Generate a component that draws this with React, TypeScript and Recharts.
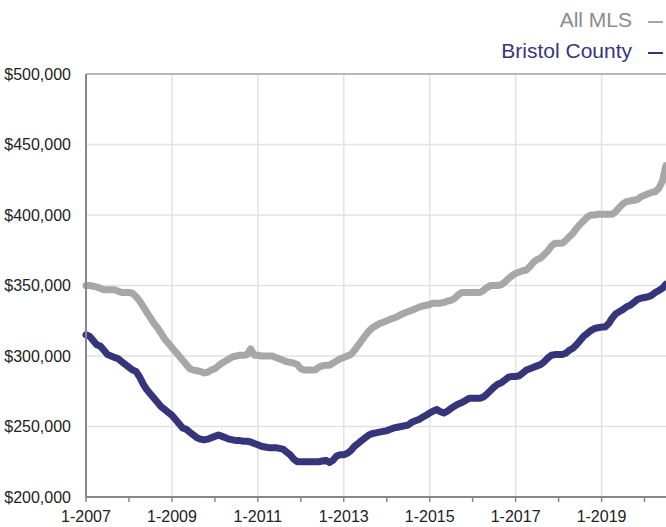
import React from 'react';
import { LineChart, Line, XAxis, YAxis, CartesianGrid, ReferenceLine, Legend } from 'recharts';

// Monthly median prices (in $ thousands), starting January 2007
const allMLS: number[] = [
  350, 350, 349.5, 349, 348, 347, 347, 347, 347, 346, 345, 345,
  345, 344.5, 342, 339, 335, 331, 327, 323, 320, 316, 312, 309,
  306, 303, 300, 297, 294, 291, 290, 289.5, 289, 288, 288.5, 290,
  291, 293, 295, 296.5, 298, 299.5, 300, 300.5, 300.5, 301, 305, 300.5,
  300.5, 300, 300, 300, 300, 299, 298, 297, 296, 295.5, 295, 294,
  291, 290, 290, 290, 290, 292, 293, 293.5, 293.5, 295, 296.5, 298,
  299, 300, 301, 304, 307.5, 311, 314.5, 317.5, 320, 321.5, 323, 324,
  325, 326, 327, 328, 329.5, 330.5, 331.5, 332.5, 333.5, 334.5, 335.5, 336,
  336.5, 337.5, 337.5, 337.5, 338, 339, 339.5, 341, 343.5, 345, 345, 345,
  345, 345, 345, 346.5, 348.5, 350, 350, 350, 350.5, 352.5, 355, 357,
  358.5, 359.5, 360.5, 361, 363.5, 366.5, 368.5, 369.5, 372, 374.5, 378, 380,
  380, 380, 382, 384.5, 387, 390.5, 393.5, 396, 398.5, 400, 400, 400.5,
  400.5, 400.5, 400.5, 400.5, 402.5, 405.5, 408, 409.5, 410, 410.5, 411, 413,
  414, 415, 416, 416.5, 419, 424, 435,
];

const bristol: number[] = [
  315, 314, 311, 308, 307, 304, 301, 300, 299, 298, 296, 294,
  292, 290, 289, 285, 280, 276, 273, 270, 267, 264, 262, 260,
  258, 255, 252, 249, 248, 246, 244, 242, 241, 240.5, 241, 242,
  243, 244, 243, 242, 241, 240.5, 240, 240, 239.5, 239.5, 239, 238,
  237, 236, 235.5, 235, 235, 235, 234.5, 234, 232, 230, 227, 225,
  225, 225, 225, 225, 225, 225, 225.5, 226, 224.5, 226, 229, 230,
  230, 231, 233, 236, 238, 240, 242, 244, 245, 245.5, 246, 246.5,
  247, 248, 249, 249.5, 250, 250.5, 251, 253, 254, 255, 256.5, 258,
  259.5, 261, 262, 260.5, 259.5, 261, 263, 264.5, 266, 267, 268.5, 270,
  270, 270, 270, 271, 273, 275.5, 278, 280, 281, 283, 285, 285.5,
  285.5, 286, 288, 290, 291, 292, 293, 294, 296, 298.5, 300.5, 301,
  301, 301, 302, 304, 305.5, 308, 311, 314, 316, 318, 319.5, 320,
  320.5, 320.5, 323, 327, 330, 331.5, 333, 335, 336, 338, 340, 341,
  341.5, 342, 343, 345, 346.5, 348, 351,
];

const xTickLabels: string[] = ['1-2007', '', '1-2009', '', '1-2011', '', '1-2013', '', '1-2015', '', '1-2017', '', '1-2019', ''];
const yTicks: number[] = [200000, 250000, 300000, 350000, 400000, 450000, 500000];
const seriesNames = { all: 'All MLS', bristol: 'Bristol County' };

const GRAY = '#a7a7a7';
const NAVY = '#35357b';

const data = allMLS.map((v, i) => ({ m: i, all: v * 1000, bristol: bristol[i] * 1000 }));
const xTicks = xTickLabels.map((_, i) => i * 12);
const gridX = xTicks.filter((_, i) => i > 0 && xTickLabels[i] !== '');

const fmtMoney = (v: number) => '$' + v.toLocaleString('en-US');

const LegendContent = (props: any) => {
  const payload = props.payload || [];
  const textColors: Record<string, string> = { all: '#8c8c8c', bristol: '#37367c' };
  return (
    <div style={{ position: 'relative', width: 666, height: 70 }}>
      {payload.map((p: any, i: number) => (
        <div key={p.dataKey} style={{ position: 'absolute', top: 9 + i * 31, right: 0, width: 666, height: 21 }}>
          <span
            style={{
              position: 'absolute',
              right: 34,
              top: 0,
              fontSize: 21,
              lineHeight: '21px',
              color: textColors[p.dataKey] || p.color,
              whiteSpace: 'nowrap',
              fontFamily: '"Liberation Sans", Arial, sans-serif',
            }}
          >
            {p.value}
          </span>
          <span style={{ position: 'absolute', right: 3, top: 12, width: 15, height: 2, background: p.color }} />
        </div>
      ))}
    </div>
  );
};

export default function App() {
  return (
    <div style={{ position: 'absolute', left: 0, top: 0, width: 666, height: 527, background: '#fff', fontFamily: '"Liberation Sans", Arial, sans-serif' }}>
      <LineChart width={666} height={527} data={data} margin={{ top: 4, right: 0, bottom: 0, left: 0 }}>
        <Legend
          verticalAlign="top"
          align="right"
          wrapperStyle={{ position: 'absolute', top: 0, left: 0, width: 666, height: 70 }}
          content={<LegendContent />}
        />
        <CartesianGrid vertical={false} stroke="#e2e2e2" strokeWidth={1.5} />
        {gridX.map((x) => (
          <ReferenceLine key={x} x={x} stroke="#e2e2e2" strokeWidth={1.5} />
        ))}
        <ReferenceLine y={500000} stroke="#a8a8a8" strokeWidth={1.5} />
        <XAxis
          dataKey="m"
          type="number"
          domain={[0, 162]}
          ticks={xTicks}
          interval={0}
          tickFormatter={(v: number) => xTickLabels[Math.round(v / 12)] || ''}
          height={30}
          tickSize={5}
          tickMargin={9}
          axisLine={{ stroke: '#888', strokeWidth: 2 }}
          tickLine={{ stroke: '#888', strokeWidth: 1.5 }}
          tick={{ fill: '#222', fontSize: 16, fontFamily: '"Liberation Sans", Arial, sans-serif' }}
        />
        <YAxis
          type="number"
          domain={[200000, 500000]}
          ticks={yTicks}
          interval={0}
          width={86}
          tickFormatter={fmtMoney}
          tickSize={0}
          tickMargin={15}
          axisLine={{ stroke: '#888', strokeWidth: 2 }}
          tickLine={false}
          tick={{ fill: '#222', fontSize: 16, fontFamily: '"Liberation Sans", Arial, sans-serif' }}
        />
        <Line
          type="linear"
          dataKey="all"
          name={seriesNames.all}
          stroke={GRAY}
          strokeWidth={7}
          strokeLinejoin="round"
          strokeLinecap="round"
          dot={false}
          isAnimationActive={false}
        />
        <Line
          type="linear"
          dataKey="bristol"
          name={seriesNames.bristol}
          stroke={NAVY}
          strokeWidth={7}
          strokeLinejoin="round"
          strokeLinecap="round"
          dot={false}
          isAnimationActive={false}
        />
      </LineChart>
    </div>
  );
}
